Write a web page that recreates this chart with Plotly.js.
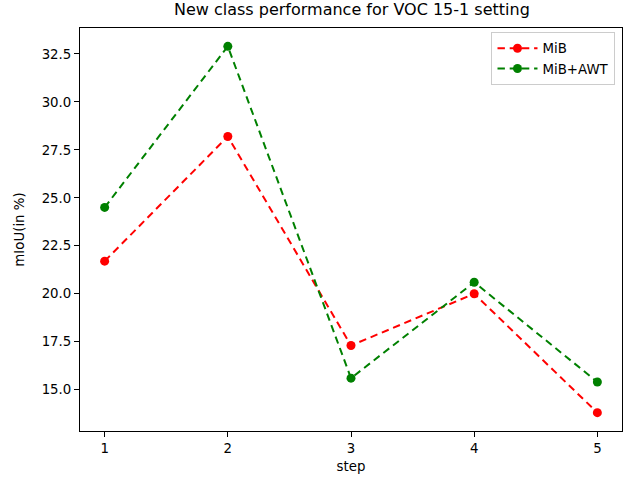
<!DOCTYPE html>
<html>
<head>
<meta charset="utf-8">
<script src="https://cdn.plot.ly/plotly-3.0.1.min.js"></script>
<style>body{margin:0;padding:0;}#chart{width:625px;height:480px;}</style>
</head>
<body>
<div id="chart"></div>
<script>
const steps = [1, 2, 3, 4, 5];
const mibValues = [21.7, 28.2, 17.3, 20.0, 13.8];
const awtValues = [24.5, 32.9, 15.6, 20.6, 15.4];
const yTicks = [15.0, 17.5, 20.0, 22.5, 25.0, 27.5, 30.0, 32.5];
const yTickLabels = ["15.0", "17.5", "20.0", "22.5", "25.0", "27.5", "30.0", "32.5"];

const font = {family: "DejaVu Sans", size: 13.33, color: "#000"};
const dash = "7.4px,4.8px";

const traces = [
  {x: steps, y: mibValues, name: "MiB", type: "scatter", mode: "lines+markers",
   line: {color: "#ff0000", width: 2, dash: dash}, marker: {color: "#ff0000", size: 9}},
  {x: steps, y: awtValues, name: "MiB+AWT", type: "scatter", mode: "lines+markers",
   line: {color: "#008000", width: 2, dash: dash}, marker: {color: "#008000", size: 9}}
];

const axisCommon = {showgrid: false, zeroline: false, showline: true, mirror: true,
  linecolor: "#000", linewidth: 1, ticks: "outside", ticklen: 5, tickwidth: 1, tickcolor: "#000",
  tickfont: font};

const layout = {
  width: 625, height: 480,
  margin: {l: 80, r: 3, t: 28, b: 49},
  paper_bgcolor: "#fff", plot_bgcolor: "#fff",
  font: font,
  title: {text: "New class performance for VOC 15-1 setting", font: {family: "DejaVu Sans", size: 16, color: "#000"},
    x: 0.563, xanchor: "center", y: 0.981, yanchor: "middle"},
  xaxis: Object.assign({}, axisCommon, {range: [0.8, 5.2], tickvals: steps, ticktext: steps.map(String),
    title: {text: "step", font: font, standoff: 6}}),
  yaxis: Object.assign({}, axisCommon, {range: [12.845, 33.855], tickvals: yTicks, ticktext: yTickLabels,
    title: {text: "mIoU(in %)", font: font, standoff: 13}}),
  showlegend: true,
  legend: {x: 0.988, y: 0.99, xanchor: "right", yanchor: "top", bgcolor: "rgba(255,255,255,0.8)",
    bordercolor: "#cccccc", borderwidth: 1, font: font, tracegroupgap: 2, itemwidth: 40}
};

Plotly.newPlot("chart", traces, layout, {staticPlot: true, displayModeBar: false});
</script>
</body>
</html>
